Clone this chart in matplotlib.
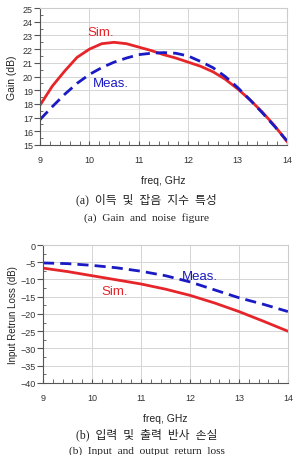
import numpy as np
import matplotlib
matplotlib.use('Agg')
from matplotlib import pyplot as plt
from matplotlib.ticker import MultipleLocator

# Gain (dB)
freq_g = [9, 9.25, 9.5, 9.75, 10, 10.25, 10.5, 10.75, 11, 11.25, 11.5,
          11.75, 12, 12.25, 12.5, 12.75, 13, 13.25, 13.5, 13.75, 14]
gain_sim = [17.9, 19.3, 20.4, 21.4, 22.0, 22.4, 22.5, 22.4, 22.15, 21.9, 21.6,
            21.35, 21.05, 20.75, 20.35, 19.8, 19.1, 18.3, 17.4, 16.4, 15.25]
gain_meas = [16.85, 17.8, 18.7, 19.5, 20.15, 20.65, 21.05, 21.35, 21.6, 21.7, 21.75,
             21.7, 21.5, 21.1, 20.65, 20.0, 19.2, 18.3, 17.35, 16.35, 15.3]

# Input return loss (dB)
freq_r = [9, 9.5, 10, 10.5, 11, 11.5, 12, 12.5, 13, 13.5, 14]
rl_sim = [-6.7, -7.7, -8.9, -10.1, -11.3, -12.8, -14.6, -16.8, -19.3, -22.1, -25.0]
rl_meas = [-5.2, -5.4, -5.9, -6.6, -7.6, -8.9, -10.7, -13.0, -15.3, -17.2, -19.3]

RED = '#e5252a'
BLUE = '#1a1ac4'
plt.rcParams['font.family'] = ['Liberation Sans', 'DejaVu Sans']

fig = plt.figure(figsize=(2.93, 4.56), dpi=100)


def style_axes(ax, ymin, ymax, ymaj, ymin_step):
    ax.set_xlim(9, 14)
    ax.set_ylim(ymin, ymax)
    ax.xaxis.set_major_locator(MultipleLocator(1))
    ax.xaxis.set_minor_locator(MultipleLocator(0.2))
    ax.yaxis.set_major_locator(MultipleLocator(ymaj))
    ax.yaxis.set_minor_locator(MultipleLocator(ymin_step))
    ax.grid(True, which='major', color='#d4d4d4', lw=0.7)
    ax.tick_params(axis='x', which='both', direction='in', length=3,
                   color='#555555', labelsize=6.5, labelcolor='#333333', pad=7)
    ax.tick_params(axis='y', which='major', direction='out', length=4,
                   color='#555555', labelsize=6.5, labelcolor='#333333', pad=1)
    ax.tick_params(axis='y', which='minor', direction='in', length=2, color='#555555')
    ax.spines['left'].set_color('#555555')
    ax.spines['bottom'].set_color('#555555')
    ax.spines['right'].set_color('#cccccc')
    ax.spines['top'].set_color('#cccccc')
    ax.set_xlabel('freq, GHz', fontsize=7.5, color='#222222', labelpad=8.5)


ax1 = fig.add_axes([0.1365, 0.680, 0.843, 0.300])
ax1.plot(freq_g, gain_sim, color=RED, lw=2)
ax1.plot(freq_g, gain_meas, color=BLUE, lw=2, dashes=(4, 2.2))
style_axes(ax1, 15, 25, 1, 0.5)
ax1.set_ylabel('Gain (dB)', fontsize=7.5, color='#222222', labelpad=4)
ax1.text(9.95, 23.0, 'Sim.', color=RED, fontsize=9.5)
ax1.text(10.08, 19.3, 'Meas.', color=BLUE, fontsize=9.5)

ax2 = fig.add_axes([0.1468, 0.158, 0.836, 0.3025])
ax2.plot(freq_r, rl_sim, color=RED, lw=2)
ax2.plot(freq_r, rl_meas, color=BLUE, lw=2, dashes=(4, 2.2))
style_axes(ax2, -40, 0, 5, 2.5)
ax2.set_ylabel('Input Retrun Loss (dB)', fontsize=7, color='#222222', labelpad=2)
ax2.text(11.83, -9.8, 'Meas.', color=BLUE, fontsize=9.5)
ax2.text(10.2, -14.2, 'Sim.', color=RED, fontsize=9.5)

cap = ['Liberation Serif', 'Noto Sans CJK KR']
fig.text(0.5, 1 - 200 / 456, '(a)  이득  및  잡음  지수  특성', ha='center', va='center',
         fontsize=8.5, family=cap, color='#222222')
fig.text(0.5, 1 - 218 / 456, '(a)  Gain  and  noise  figure', ha='center', va='center',
         fontsize=8.2, family=cap, color='#222222')
fig.text(0.5, 1 - 435 / 456, '(b)  입력  및  출력  반사  손실', ha='center', va='center',
         fontsize=8.5, family=cap, color='#222222')
fig.text(0.5, 1 - 451 / 456, '(b)  Input  and  output  return  loss', ha='center', va='center',
         fontsize=8.2, family=cap, color='#222222')

fig.savefig('out.png', dpi=100)
